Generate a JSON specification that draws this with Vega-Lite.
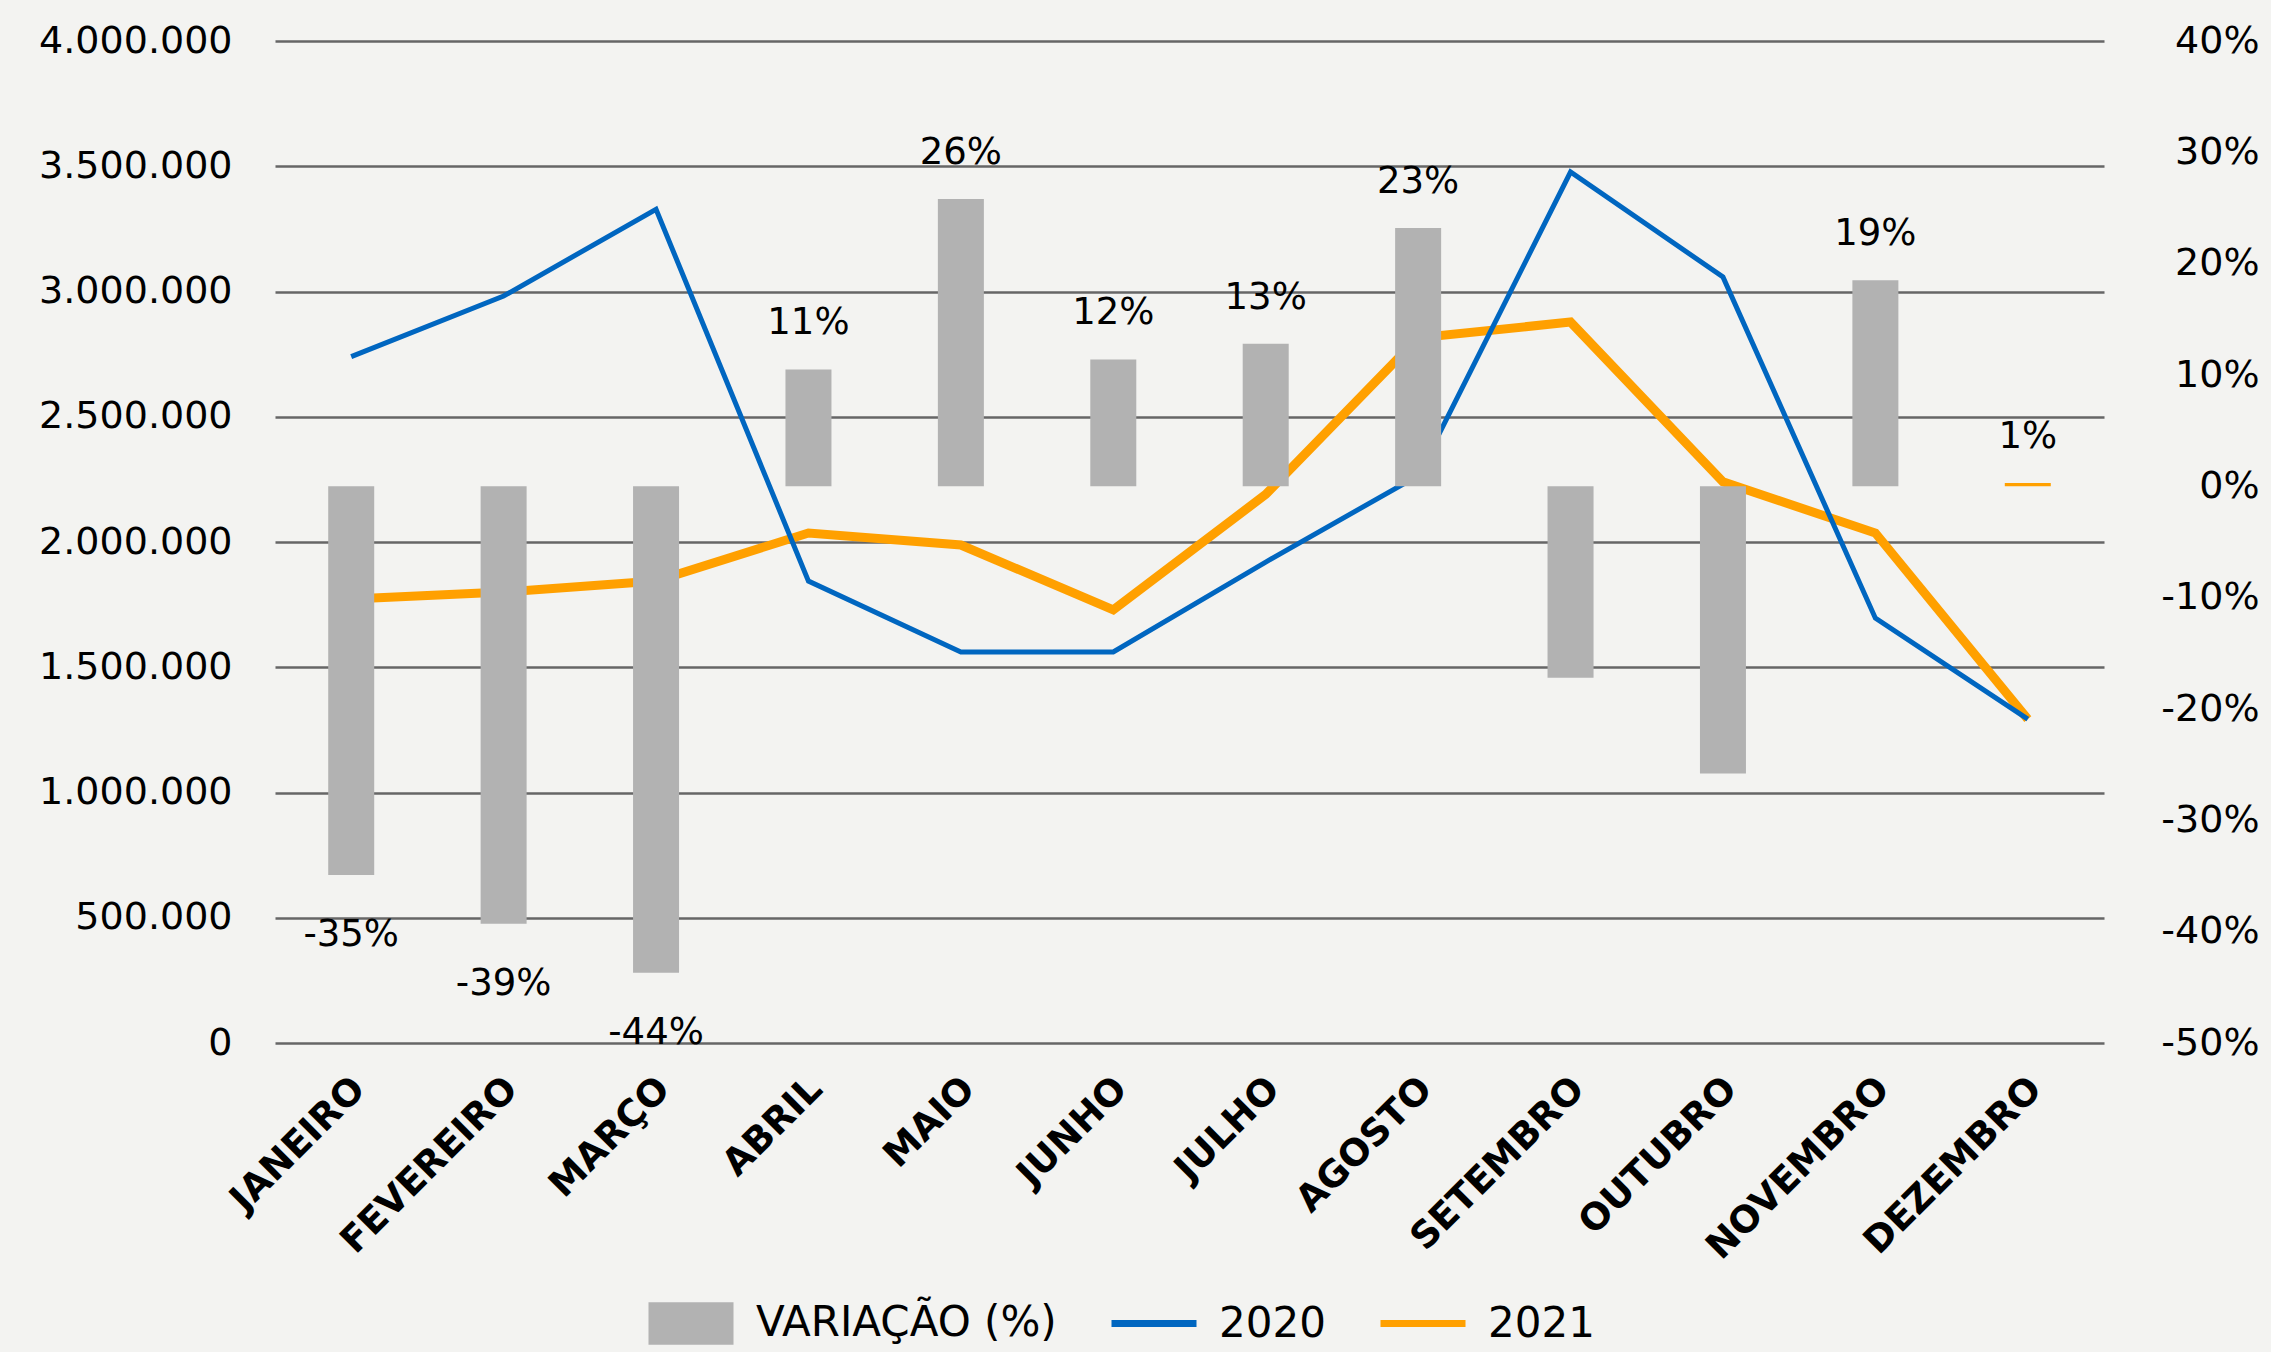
{
  "$schema": "https://vega.github.io/schema/vega-lite/v6.json",
  "width": 1829,
  "height": 1002,
  "autosize": "none",
  "padding": {"left": 275, "top": 41, "right": 167, "bottom": 309},
  "background": "#f3f3f1",
  "config": {
    "view": {"stroke": null},
    "font": "DejaVu Sans",
    "locale": {"number": {"decimal": ",", "thousands": ".", "grouping": [3], "currency": ["R$", ""]}}
  },
  "data": {
    "values": [
      {"mes": "JANEIRO", "v2020": 2740000, "v2021": 1772000, "var": -34.9, "rotulo": "-35%"},
      {"mes": "FEVEREIRO", "v2020": 2982000, "v2021": 1800000, "var": -39.3, "rotulo": "-39%"},
      {"mes": "MARÇO", "v2020": 3328000, "v2021": 1844000, "var": -43.7, "rotulo": "-44%"},
      {"mes": "ABRIL", "v2020": 1844000, "v2021": 2036000, "var": 10.5, "rotulo": "11%"},
      {"mes": "MAIO", "v2020": 1561000, "v2021": 1988000, "var": 25.8, "rotulo": "26%"},
      {"mes": "JUNHO", "v2020": 1561000, "v2021": 1729000, "var": 11.4, "rotulo": "12%"},
      {"mes": "JULHO", "v2020": 1920000, "v2021": 2190000, "var": 12.8, "rotulo": "13%"},
      {"mes": "AGOSTO", "v2020": 2265000, "v2021": 2815000, "var": 23.2, "rotulo": "23%"},
      {"mes": "SETEMBRO", "v2020": 3477000, "v2021": 2878000, "var": -17.2, "rotulo": ""},
      {"mes": "OUTUBRO", "v2020": 3058000, "v2021": 2240000, "var": -25.8, "rotulo": ""},
      {"mes": "NOVEMBRO", "v2020": 1696000, "v2021": 2036000, "var": 18.5, "rotulo": "19%"},
      {"mes": "DEZEMBRO", "v2020": 1293000, "v2021": 1293000, "var": 0.3, "rotulo": "1%"}
    ]
  },
  "encoding": {
    "x": {
      "field": "mes",
      "type": "nominal",
      "scale": {
        "domain": ["JANEIRO", "FEVEREIRO", "MARÇO", "ABRIL", "MAIO", "JUNHO", "JULHO", "AGOSTO", "SETEMBRO", "OUTUBRO", "NOVEMBRO", "DEZEMBRO"],
        "paddingInner": 0,
        "paddingOuter": 0
      },
      "axis": {
        "title": null,
        "domain": false,
        "ticks": false,
        "grid": false,
        "labelAngle": -45,
        "labelAlign": "right",
        "labelBaseline": "middle",
        "labelFont": "DejaVu Sans",
        "labelFontSize": 37,
        "labelFontWeight": "bold",
        "labelColor": "#000000",
        "labelPadding": 40,
        "labelOffset": 8,
        "labelLimit": 600,
        "labelOverlap": false
      }
    }
  },
  "layer": [
    {
      "layer": [
        {
          "mark": {"type": "line", "strokeWidth": 9, "strokeJoin": "miter"},
          "encoding": {
            "y": {
              "field": "v2021",
              "type": "quantitative",
              "scale": {"domain": [0, 4000000]},
              "axis": {
                "title": null,
                "domain": false,
                "ticks": false,
                "grid": true,
                "gridColor": "#666666",
                "gridWidth": 2.5,
                "values": [0, 500000, 1000000, 1500000, 2000000, 2500000, 3000000, 3500000, 4000000],
                "format": ",.0f",
                "labelFont": "DejaVu Sans",
                "labelFontSize": 38,
                "labelColor": "#000000",
                "labelPadding": 43,
                "labelLimit": 600,
                "labelFlush": false,
                "labelOverlap": false,
                "labelBound": false
              }
            },
            "color": {
              "datum": "2021",
              "type": "nominal",
              "scale": {"domain": ["VARIAÇÃO (%)", "2020", "2021"], "range": ["#b2b2b2", "#0066c0", "#ffa000"]},
              "legend": {
                "title": null,
                "orient": "none",
                "legendX": 395,
                "legendY": 1261,
                "direction": "horizontal",
                "padding": 0,
                "labelFont": "DejaVu Sans",
                "labelFontSize": 42,
                "labelColor": "#000000",
                "labelOffset": 44,
                "columnPadding": 40,
                "symbolSize": 7225,
                "labelLimit": 600,
                "encode": {
                  "symbols": {
                    "update": {
                      "shape": {"signal": "datum.value === 'VARIAÇÃO (%)' ? 'M-1,-0.5H1V0.5H-1Z' : 'stroke'"},
                      "fill": {"signal": "datum.value === 'VARIAÇÃO (%)' ? '#b2b2b2' : 'transparent'"},
                      "stroke": {"signal": "datum.value === '2020' ? '#0066c0' : (datum.value === '2021' ? '#ffa000' : 'transparent')"},
                      "strokeWidth": {"signal": "datum.value === 'VARIAÇÃO (%)' ? 0 : 7"},
                      "opacity": {"value": 1}
                    }
                  }
                }
              }
            }
          }
        },
        {
          "mark": {"type": "line", "strokeWidth": 5, "strokeJoin": "miter"},
          "encoding": {
            "y": {"field": "v2020", "type": "quantitative"},
            "color": {"datum": "2020", "type": "nominal"}
          }
        }
      ]
    },
    {
      "layer": [
        {
          "mark": {"type": "bar", "size": 46},
          "encoding": {
            "y": {
              "field": "var",
              "type": "quantitative",
              "scale": {"domain": [-50, 40]},
              "axis": {
                "orient": "right",
                "title": null,
                "domain": false,
                "ticks": false,
                "grid": false,
                "values": [-50, -40, -30, -20, -10, 0, 10, 20, 30, 40],
                "labelExpr": "datum.value + '%'",
                "labelAlign": "right",
                "labelPadding": 155,
                "labelFont": "DejaVu Sans",
                "labelFontSize": 38,
                "labelColor": "#000000",
                "labelFlush": false,
                "labelOverlap": false,
                "labelBound": false
              }
            },
            "color": {
              "condition": {"test": "datum.mes === 'DEZEMBRO'", "value": "#ffa000"},
              "datum": "VARIAÇÃO (%)",
              "type": "nominal"
            }
          }
        },
        {
          "transform": [{"filter": "datum.var > 0"}],
          "mark": {"type": "text", "dy": -46, "baseline": "middle", "font": "DejaVu Sans", "fontSize": 37, "color": "#000000"},
          "encoding": {
            "y": {"field": "var", "type": "quantitative"},
            "text": {"field": "rotulo"}
          }
        },
        {
          "transform": [{"filter": "datum.var < 0"}],
          "mark": {"type": "text", "dy": 60, "baseline": "middle", "font": "DejaVu Sans", "fontSize": 37, "color": "#000000"},
          "encoding": {
            "y": {"field": "var", "type": "quantitative"},
            "text": {"field": "rotulo"}
          }
        }
      ]
    }
  ],
  "resolve": {"scale": {"y": "independent"}}
}
